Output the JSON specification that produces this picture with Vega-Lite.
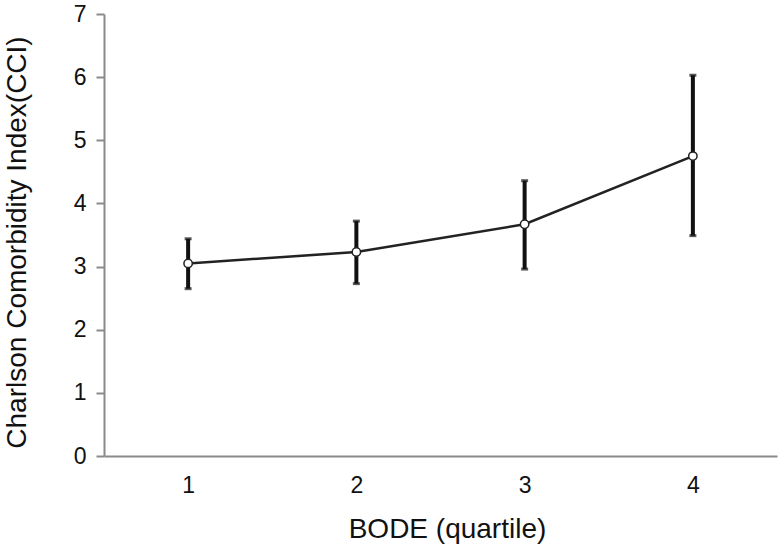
{
  "$schema": "https://vega.github.io/schema/vega-lite/v6.json",
  "autosize": "none",
  "width": 673,
  "height": 442,
  "padding": {"left": 104, "top": 14, "right": 7, "bottom": 96},
  "background": "white",
  "config": {
    "view": {"stroke": null},
    "font": "Liberation Sans"
  },
  "data": {
    "values": [
      {"q": "1", "mean": 3.05, "low": 2.65, "high": 3.44},
      {"q": "2", "mean": 3.23, "low": 2.73, "high": 3.72},
      {"q": "3", "mean": 3.67, "low": 2.96, "high": 4.36},
      {"q": "4", "mean": 4.75, "low": 3.49, "high": 6.03}
    ]
  },
  "encoding": {
    "x": {
      "field": "q",
      "type": "ordinal",
      "scale": {"type": "point", "padding": 0.5},
      "axis": {
        "title": "BODE (quartile)",
        "labelAngle": 0,
        "labelFont": "Liberation Sans",
        "labelFontSize": 23,
        "labelColor": "#111",
        "labelPadding": 18,
        "ticks": false,
        "domainColor": "#8a8a8a",
        "domainWidth": 2,
        "titleFont": "Liberation Sans",
        "titleFontSize": 28,
        "titleFontWeight": "normal",
        "titleColor": "#111",
        "titleX": 343,
        "titleY": 73,
        "titleBaseline": "middle",
        "titleAlign": "center"
      }
    }
  },
  "layer": [
    {
      "mark": {"type": "rule", "strokeWidth": 4, "color": "#111"},
      "encoding": {
        "y": {
          "field": "low",
          "type": "quantitative",
          "scale": {"domain": [0, 7], "nice": false},
          "axis": {
            "title": "Charlson Comorbidity Index(CCI)",
            "values": [0, 1, 2, 3, 4, 5, 6, 7],
            "format": "d",
            "grid": false,
            "tickSize": 8,
            "tickColor": "#8a8a8a",
            "tickWidth": 2,
            "domainColor": "#8a8a8a",
            "domainWidth": 2,
            "labelFont": "Liberation Sans",
            "labelFontSize": 23,
            "labelColor": "#111",
            "labelPadding": 10,
            "titleFont": "Liberation Sans",
            "titleFontSize": 28,
            "titleFontWeight": "normal",
            "titleColor": "#111",
            "titleAngle": -90,
            "titleX": -87,
            "titleY": 228,
            "titleBaseline": "middle",
            "titleAlign": "center"
          }
        },
        "y2": {"field": "high"}
      }
    },
    {
      "mark": {"type": "tick", "thickness": 3, "size": 7, "color": "#111"},
      "encoding": {"y": {"field": "low", "type": "quantitative"}}
    },
    {
      "mark": {"type": "tick", "thickness": 3, "size": 7, "color": "#111"},
      "encoding": {"y": {"field": "high", "type": "quantitative"}}
    },
    {
      "mark": {"type": "line", "color": "#222", "strokeWidth": 2.5},
      "encoding": {"y": {"field": "mean", "type": "quantitative"}}
    },
    {
      "mark": {"type": "point", "filled": true, "fill": "white", "stroke": "#222", "strokeWidth": 1.5, "size": 70, "opacity": 1},
      "encoding": {"y": {"field": "mean", "type": "quantitative"}}
    }
  ]
}
